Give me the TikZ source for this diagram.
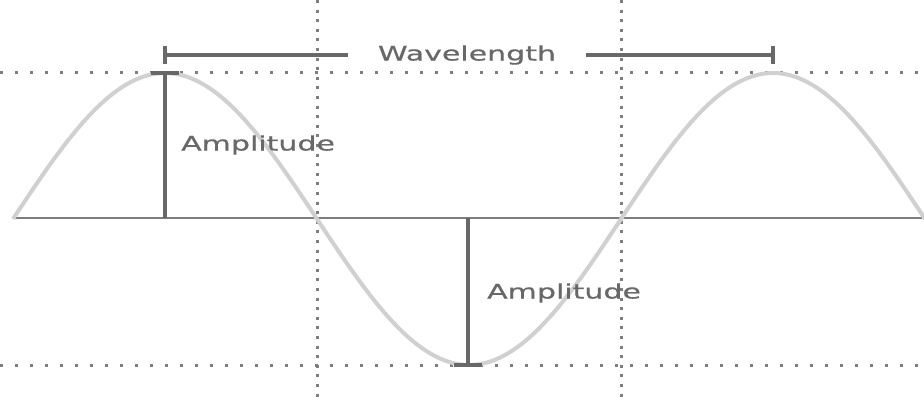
\documentclass[tikz,border=0pt]{standalone}
\usepackage{fontspec}
\newfontfamily\wavefont[FakeStretch=1.5,FakeBold=0.6]{DejaVu Sans}
\usetikzlibrary{arrows.meta,positioning,calc}
\definecolor{wavegray}{RGB}{208,208,208}
\definecolor{markgray}{RGB}{104,104,104}
\definecolor{guidegray}{RGB}{125,125,125}
\tikzset{
    wave/.style={
        draw=wavegray,
        line width=4pt
    },
    axisline/.style={
        draw=guidegray,
        line width=2.4pt
    },
    hguide/.style={
        draw=guidegray,
        line width=3pt,
        dash pattern=on 3pt off 12pt
    },
    vguide/.style={
        hguide,
        dash pattern=on 3pt off 6.6pt
    },
    measure/.style={
        draw=markgray,
        line width=3.6pt
    },
    textlabel/.style={
        text=markgray,
        inner sep=0pt,
        font=\wavefont\fontsize{20}{20}\selectfont
    }
}

\begin{document}
\begin{tikzpicture}[x=1pt, y=-1pt]
    \useasboundingbox (0,0) rectangle (924,401);

    % guides
    \draw[hguide] (0,73) -- (924,73);
    \draw[hguide] (0,365) -- (924,365);
    \draw[vguide] (317,0) -- (317,401);
    \draw[vguide] (621,0) -- (621,401);

    % axis and wave
    \coordinate (start) at (13,218);
    \coordinate (end) at (922,218);
    \draw[axisline] (start) -- (end);
    \draw[wave, line join=round] plot[domain=0:912, samples=200, smooth]
        ({13+\x}, {219-146*sin(\x/608*360)});

    % wavelength
    \coordinate (wl-left) at (165,55);
    \coordinate (wl-right) at (773,55);
    \node[textlabel, inner xsep=30pt] (wl) at (467,55) {Wavelength};
    \draw[measure] (wl-left) -- (wl.west);
    \draw[measure] (wl.east) -- (wl-right);
    \draw[measure] ($(wl-left)+(0,-9)$) -- ($(wl-left)+(0,9)$);
    \draw[measure] ($(wl-right)+(0,-9)$) -- ($(wl-right)+(0,9)$);

    % amplitudes
    \coordinate (peak) at (165,73);
    \coordinate (base1) at (165,218);
    \coordinate (trough) at (468,365);
    \coordinate (base2) at (468,218);
    \draw[measure] (base1) -- (peak);
    \draw[measure] ($(peak)+(-14,0)$) -- ($(peak)+(14,0)$);
    \draw[measure] (base2) -- (trough);
    \draw[measure] ($(trough)+(-14,0)$) -- ($(trough)+(14,0)$);
    \node[textlabel, anchor=west] (amp1) at (181,145) {Amplitude};
    \node[textlabel, anchor=west] (amp2) at (487,293) {Amplitude};
\end{tikzpicture}
\end{document}
